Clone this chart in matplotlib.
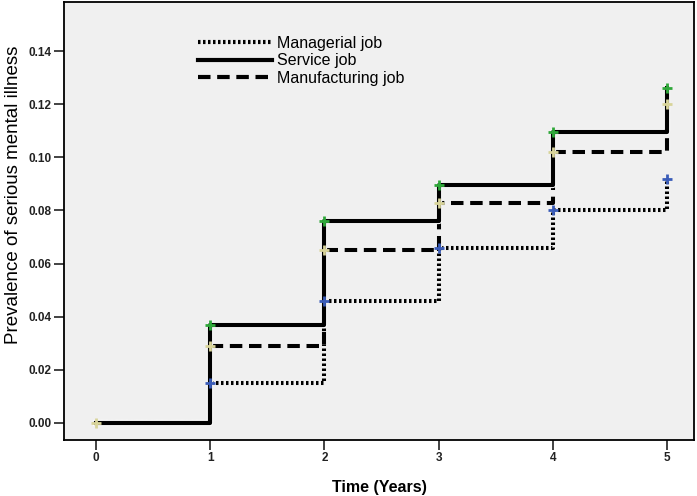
import numpy as np
import matplotlib.pyplot as plt
import matplotlib.patheffects as pe
from matplotlib.lines import Line2D

plt.rcParams['font.family'] = ['Liberation Sans', 'DejaVu Sans']

# data
years = [0, 1, 2, 3, 4, 5]
managerial = [0.0, 0.015, 0.046, 0.066, 0.080, 0.092]
service = [0.0, 0.037, 0.076, 0.0895, 0.1095, 0.126]
manufacturing = [0.0, 0.029, 0.065, 0.083, 0.102, 0.120]
series_names = ['Managerial job', 'Service job', 'Manufacturing job']

fig = plt.figure(figsize=(6.97, 4.96), dpi=100)
ax = fig.add_axes([0.092, 0.113, 0.904, 0.883])
ax.set_facecolor('#f0f0f0')

outline = [pe.Stroke(linewidth=4.5, foreground='white'), pe.Normal()]

# step curves (hold value until the next year)
ax.plot(years, managerial, drawstyle='steps-post', color='black', lw=3,
        linestyle=(0, (0.6, 0.6)), path_effects=outline, zorder=2)
ax.plot(years, manufacturing, drawstyle='steps-post', color='black', lw=3,
        linestyle=(0, (3, 1.6)), path_effects=outline, zorder=3)
ax.plot(years, service, drawstyle='steps-post', color='black', lw=3,
        path_effects=outline, zorder=4)

# censor marks
ax.plot(years[1:], managerial[1:], '+', color='#3a5cb8', ms=7, mew=2, zorder=5)
ax.plot(years, manufacturing, '+', color='#d8d49a', ms=7, mew=2, zorder=5)
ax.plot(years[1:], service[1:], '+', color='#2fa83a', ms=7, mew=2, zorder=6)

ax.set_xlim(-0.28, 5.24)
ax.set_ylim(-0.0064, 0.1585)
ax.set_xticks(years)
ax.set_yticks(np.arange(0, 0.141, 0.02))
ax.yaxis.set_major_formatter(plt.FormatStrFormatter('%.2f'))
ax.tick_params(direction='out', length=7, width=1.2, labelsize=8.5,
               colors='#222222', pad=2)
for lab in ax.get_xticklabels() + ax.get_yticklabels():
    lab.set_fontweight('bold')
for s in ax.spines.values():
    s.set_linewidth(1.3)

ax.set_xlabel('Time (Years)', fontsize=11.5, fontweight='bold', labelpad=11)
ax.set_ylabel('Prevalence of serious mental illness', fontsize=13.5)
ax.yaxis.set_label_coords(-0.067, 0.56)

handles = [Line2D([], [], color='black', lw=3, linestyle=(0, (0.6, 0.6))),
           Line2D([], [], color='black', lw=3),
           Line2D([], [], color='black', lw=3, linestyle=(0, (3, 1.6)))]
ax.legend(handles, series_names, loc='upper left', bbox_to_anchor=(0.19, 0.955),
          frameon=False, fontsize=11.5, handlelength=4.6, handletextpad=0.35,
          labelspacing=0.15)

fig.savefig('out.png', dpi=100)
